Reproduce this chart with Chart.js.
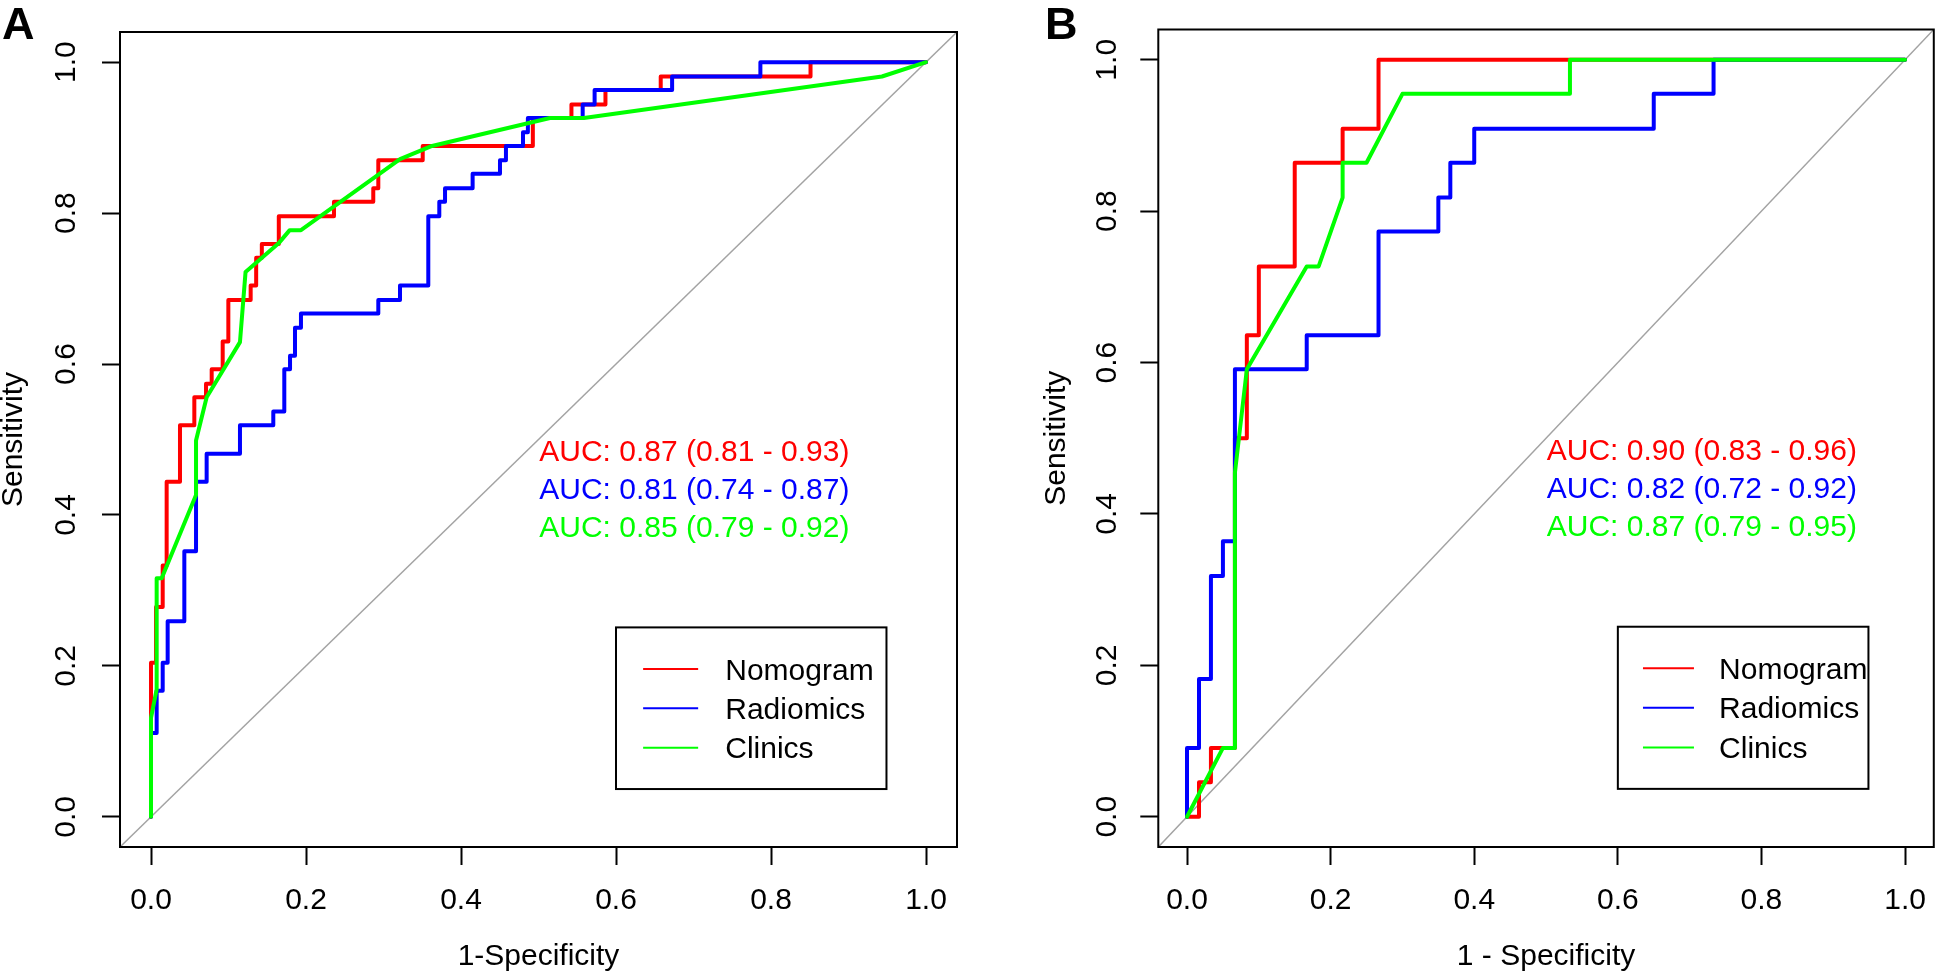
<!DOCTYPE html>
<html>
<head>
<meta charset="utf-8">
<script src="https://cdn.jsdelivr.net/npm/chart.js@4.4.1/dist/chart.umd.min.js"></script>
<style>
html,body{margin:0;padding:0;background:#fff;width:1944px;height:975px;overflow:hidden}
canvas{position:absolute;top:0}
#cA{left:0}
#cB{left:972px}
</style>
</head>
<body>
<canvas id="cA" width="972" height="975"></canvas>
<canvas id="cB" width="972" height="975"></canvas>
<script>
const FONT = "'Liberation Sans', Arial, Helvetica, sans-serif";

// ---- shared axis data ----
const xTicks = [0, 0.2, 0.4, 0.6, 0.8, 1.0];
const yTicks = [0, 0.2, 0.4, 0.6, 0.8, 1.0];
const seriesNames = ['Nomogram', 'Radiomics', 'Clinics'];
const seriesColors = ['#ff0000', '#0000ff', '#00ff00'];
const diagX = [-0.04, 1.04];
const diagY = [-0.04, 1.04];

// ---- Panel A (1-Specificity, Sensitivity) ----
const nomoA_x = [0, 0, 0.0065, 0.0065, 0.0151, 0.0151, 0.0202, 0.0202, 0.0374, 0.0374, 0.0559, 0.0559, 0.071, 0.071, 0.0783, 0.0783, 0.0925, 0.0925, 0.0998, 0.0998, 0.1286, 0.1286, 0.1357, 0.1357, 0.143, 0.143, 0.1649, 0.1649, 0.2361, 0.2361, 0.2868, 0.2868, 0.2933, 0.2933, 0.3506, 0.3506, 0.4927, 0.4927, 0.5425, 0.5425, 0.5864, 0.5864, 0.6577, 0.6577, 0.851, 0.851, 1];
const nomoA_y = [0, 0.204, 0.204, 0.278, 0.278, 0.333, 0.333, 0.444, 0.444, 0.519, 0.519, 0.556, 0.556, 0.574, 0.574, 0.593, 0.593, 0.630, 0.630, 0.685, 0.685, 0.704, 0.704, 0.741, 0.741, 0.759, 0.759, 0.796, 0.796, 0.815, 0.815, 0.833, 0.833, 0.870, 0.870, 0.889, 0.889, 0.926, 0.926, 0.944, 0.944, 0.963, 0.963, 0.981, 0.981, 1, 1];
const radA_x = [0, 0, 0.0073, 0.0073, 0.0151, 0.0151, 0.0215, 0.0215, 0.043, 0.043, 0.0581, 0.0581, 0.0718, 0.0718, 0.1148, 0.1148, 0.1578, 0.1578, 0.172, 0.172, 0.1794, 0.1794, 0.1858, 0.1858, 0.1935, 0.1935, 0.2933, 0.2933, 0.3213, 0.3213, 0.3578, 0.3578, 0.372, 0.372, 0.3794, 0.3794, 0.415, 0.415, 0.4503, 0.4503, 0.458, 0.458, 0.480, 0.480, 0.4863, 0.4863, 0.557, 0.557, 0.5724, 0.5724, 0.6724, 0.6724, 0.7863, 0.7863, 1];
const radA_y = [0, 0.111, 0.111, 0.167, 0.167, 0.204, 0.204, 0.259, 0.259, 0.352, 0.352, 0.444, 0.444, 0.481, 0.481, 0.519, 0.519, 0.537, 0.537, 0.593, 0.593, 0.611, 0.611, 0.648, 0.648, 0.667, 0.667, 0.685, 0.685, 0.704, 0.704, 0.796, 0.796, 0.815, 0.815, 0.833, 0.833, 0.852, 0.852, 0.870, 0.870, 0.889, 0.889, 0.907, 0.907, 0.926, 0.926, 0.944, 0.944, 0.963, 0.963, 0.981, 0.981, 1, 1];
const cliA_x = [0, 0, 0.0073, 0.0073, 0.0138, 0.0581, 0.0581, 0.0718, 0.1148, 0.122, 0.1643, 0.179, 0.1935, 0.3213, 0.3626, 0.5148, 0.5586, 0.9432, 1];
const cliA_y = [0, 0.131, 0.169, 0.316, 0.316, 0.4265, 0.4988, 0.556, 0.629, 0.722, 0.7596, 0.7774, 0.7774, 0.8715, 0.889, 0.926, 0.926, 0.981, 1];
const aucA = [0.87, 0.81, 0.85];
const ciLowA = [0.81, 0.74, 0.79];
const ciHighA = [0.93, 0.87, 0.92];

// ---- Panel B ----
const nomoB_x = [0, 0.0167, 0.0167, 0.0333, 0.0333, 0.0667, 0.0667, 0.0833, 0.0833, 0.1, 0.1, 0.15, 0.15, 0.2167, 0.2167, 0.2667, 0.2667, 1];
const nomoB_y = [0, 0, 0.0455, 0.0455, 0.0909, 0.0909, 0.5, 0.5, 0.636, 0.636, 0.727, 0.727, 0.864, 0.864, 0.909, 0.909, 1, 1];
const radB_x = [0, 0, 0.0167, 0.0167, 0.0333, 0.0333, 0.05, 0.05, 0.0667, 0.0667, 0.1667, 0.1667, 0.2667, 0.2667, 0.35, 0.35, 0.3667, 0.3667, 0.4, 0.4, 0.65, 0.65, 0.7333, 0.7333, 1];
const radB_y = [0, 0.0909, 0.0909, 0.182, 0.182, 0.318, 0.318, 0.364, 0.364, 0.591, 0.591, 0.636, 0.636, 0.773, 0.773, 0.818, 0.818, 0.864, 0.864, 0.909, 0.909, 0.955, 0.955, 1, 1];
const cliB_x = [0, 0.05, 0.0667, 0.0667, 0.0833, 0.1667, 0.1833, 0.2167, 0.2167, 0.25, 0.3, 0.5333, 0.5333, 1];
const cliB_y = [0, 0.0909, 0.0909, 0.4545, 0.591, 0.727, 0.727, 0.818, 0.864, 0.864, 0.955, 0.955, 1, 1];
const aucB = [0.90, 0.82, 0.87];
const ciLowB = [0.83, 0.72, 0.79];
const ciHighB = [0.96, 0.92, 0.95];

// ---- annotation placement (data coordinates) ----
const aucTextX = 0.501;
const aucTextY = [0.471, 0.421, 0.371];
const legendBox = {x0: 0.600, x1: 0.949, y0: 0.251, y1: 0.0368};
const legendLineX = [0.635, 0.706];
const legendTextX = 0.741;
const legendRowY = [0.196, 0.144, 0.0916];

function pts(xs, ys) { return xs.map((x, i) => ({x: x, y: ys[i]})); }

function makePanel(id, p) {
  const curve = (label, xs, ys, color, order) => ({
    label: label, data: pts(xs, ys), borderColor: color, backgroundColor: color,
    borderWidth: 4, pointRadius: 0, showLine: true, tension: 0, fill: false,
    borderCapStyle: 'round', borderJoinStyle: 'round', order: order
  });
  const datasets = [
    curve(seriesNames[2], p.cli[0], p.cli[1], seriesColors[2], 0),
    curve(seriesNames[1], p.rad[0], p.rad[1], seriesColors[1], 1),
    curve(seriesNames[0], p.nomo[0], p.nomo[1], seriesColors[0], 2),
    {label: 'ref', data: pts(diagX, diagY), borderColor: '#a3a3a3', borderWidth: 1.5,
     pointRadius: 0, showLine: true, fill: false, order: 3}
  ];

  const annot = {
    id: 'annot' + id,
    afterDraw(chart) {
      const ctx = chart.ctx, ca = chart.chartArea;
      const sx = chart.scales.x, sy = chart.scales.y;
      ctx.save();
      // box
      ctx.strokeStyle = '#000'; ctx.lineWidth = 2;
      ctx.strokeRect(ca.left, ca.top, ca.right - ca.left, ca.bottom - ca.top);
      // panel letter
      ctx.fillStyle = '#000';
      ctx.font = 'bold 45px ' + FONT;
      ctx.textAlign = 'left'; ctx.textBaseline = 'alphabetic';
      ctx.fillText(p.letter, p.letterX, 39);
      // AUC text
      ctx.font = '30px ' + FONT;
      for (let i = 0; i < 3; i++) {
        ctx.fillStyle = seriesColors[i];
        const t = 'AUC: ' + p.auc[i].toFixed(2) + ' (' + p.lo[i].toFixed(2) + ' - ' + p.hi[i].toFixed(2) + ')';
        ctx.fillText(t, sx.getPixelForValue(aucTextX), sy.getPixelForValue(aucTextY[i]));
      }
      // legend
      const lx0 = sx.getPixelForValue(legendBox.x0), lx1 = sx.getPixelForValue(legendBox.x1);
      const ly0 = sy.getPixelForValue(legendBox.y0), ly1 = sy.getPixelForValue(legendBox.y1);
      ctx.fillStyle = '#fff';
      ctx.fillRect(lx0, ly0, lx1 - lx0, ly1 - ly0);
      ctx.strokeStyle = '#000'; ctx.lineWidth = 2;
      ctx.strokeRect(lx0, ly0, lx1 - lx0, ly1 - ly0);
      for (let i = 0; i < 3; i++) {
        const yy = sy.getPixelForValue(legendRowY[i]);
        ctx.strokeStyle = seriesColors[i]; ctx.lineWidth = 2;
        ctx.beginPath();
        ctx.moveTo(sx.getPixelForValue(legendLineX[0]), yy);
        ctx.lineTo(sx.getPixelForValue(legendLineX[1]), yy);
        ctx.stroke();
        ctx.fillStyle = '#000';
        ctx.fillText(seriesNames[i], sx.getPixelForValue(legendTextX), yy + 10.7);
      }
      ctx.restore();
    }
  };

  return new Chart(document.getElementById(id), {
    type: 'scatter',
    data: {datasets: datasets},
    options: {
      responsive: false, animation: false, devicePixelRatio: 1,
      layout: {padding: p.pad},
      plugins: {legend: {display: false}, tooltip: {enabled: false}},
      scales: {
        x: {
          type: 'linear', position: 'bottom', min: -0.04, max: 1.04,
          afterBuildTicks: s => { s.ticks = xTicks.map(v => ({value: v})); },
          afterFit: s => { s.height = 128; },
          ticks: {callback: v => Number(v).toFixed(1), font: {family: FONT, size: 30}, color: '#000',
                  padding: 18, maxRotation: 0, minRotation: 0, autoSkip: false},
          grid: {display: true, drawOnChartArea: false, drawTicks: true, tickLength: 18,
                 tickWidth: 2, tickColor: '#000', color: '#000'},
          border: {display: false},
          title: {display: true, text: p.xTitle, color: '#000',
                  font: {family: FONT, size: 30, lineHeight: 1.2}, padding: {top: 0, bottom: 0}}
        },
        y: {
          type: 'linear', position: 'left', min: -0.04, max: 1.04,
          afterBuildTicks: s => { s.ticks = yTicks.map(v => ({value: v})); },
          afterFit: s => { s.width = p.yWidth; },
          ticks: {callback: v => Number(v).toFixed(1), font: {family: FONT, size: 30}, color: '#000',
                  padding: p.yTickPad, minRotation: 90, maxRotation: 90, crossAlign: 'center', autoSkip: false},
          grid: {display: true, drawOnChartArea: false, drawTicks: true, tickLength: 18,
                 tickWidth: 2, tickColor: '#000', color: '#000'},
          border: {display: false},
          title: {display: true, text: 'Sensitivity', color: '#000',
                  font: {family: FONT, size: 30, lineHeight: 0.9}, padding: {top: p.yTitlePad, bottom: 0}}
        }
      }
    },
    plugins: [annot]
  });
}

makePanel('cA', {
  nomo: [nomoA_x, nomoA_y], rad: [radA_x, radA_y], cli: [cliA_x, cliA_y],
  auc: aucA, lo: ciLowA, hi: ciHighA,
  pad: {left: 0, top: 1, right: 15, bottom: 0},
  yWidth: 120, yTickPad: 14, yTitlePad: 0,
  letter: 'A', letterX: 2, xTitle: '1-Specificity'
});
makePanel('cB', {
  nomo: [nomoB_x, nomoB_y], rad: [radB_x, radB_y], cli: [cliB_x, cliB_y],
  auc: aucB, lo: ciLowB, hi: ciHighB,
  pad: {left: 0, top: 1.7, right: 2.3, bottom: 0},
  yWidth: 186.3, yTickPad: 11.5, yTitlePad: 71.5,
  letter: 'B', letterX: 73, xTitle: '1 - Specificity'
});
</script>
</body>
</html>
